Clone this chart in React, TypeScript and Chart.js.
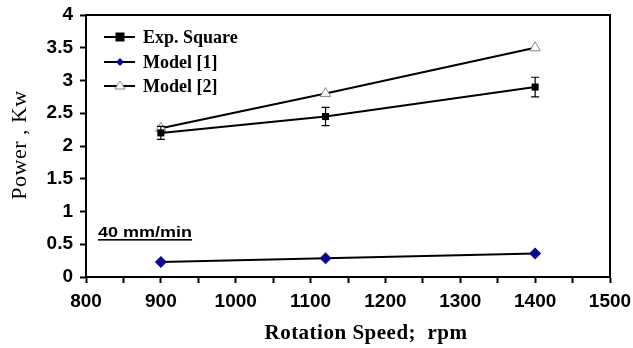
import React, { useEffect, useRef } from "react";
import { Chart, registerables } from "chart.js";

Chart.register(...registerables);

const speeds = [900, 1120, 1400];
const expSquare = [2.2, 2.45, 2.9];
const expError = [0.1, 0.14, 0.15];
const model1 = [0.23, 0.285, 0.36];
const model2 = [2.27, 2.8, 3.5];
const yTicks = [0, 0.5, 1, 1.5, 2, 2.5, 3, 3.5, 4];
const xTickLabels = [800, 900, 1000, 1100, 1200, 1300, 1400, 1500];
const legendLabels = ["Exp. Square", "Model [1]", "Model [2]"];
const noteText = "40 mm/min";
const xTitle = "Rotation Speed;  rpm";
const yTitle = "Power , Kw";

const PLOT = { left: 86, top: 15, right: 610, bottom: 277 };

export default function App() {
  const ref = useRef<HTMLCanvasElement>(null);
  useEffect(() => {
    document.body.style.margin = "0";
    const canvas = ref.current!;
    const framePlugin = {
      id: "frame",
      afterDatasetsDraw(chart: any) {
        const { ctx, chartArea: a, scales } = chart;
        const xs = scales.x, ys = scales.y;
        ctx.save();
        // frame
        ctx.strokeStyle = "#000";
        ctx.lineWidth = 2;
        ctx.beginPath();
        ctx.moveTo(a.left, a.top);
        ctx.lineTo(a.right, a.top);
        ctx.lineTo(a.right, a.bottom);
        ctx.stroke();
        // error bars
        ctx.lineWidth = 1.2;
        speeds.forEach((s, i) => {
          const x = xs.getPixelForValue(s);
          const y1 = ys.getPixelForValue(expSquare[i] + expError[i]);
          const y2 = ys.getPixelForValue(expSquare[i] - expError[i]);
          ctx.beginPath();
          ctx.moveTo(x, y1); ctx.lineTo(x, y2);
          ctx.moveTo(x - 4, y1); ctx.lineTo(x + 4, y1);
          ctx.moveTo(x - 4, y2); ctx.lineTo(x + 4, y2);
          ctx.stroke();
        });
        // legend
        const rows = [37, 62, 86];
        const lx1 = 104, lx2 = 135, mx = 120;
        rows.forEach((ry, i) => {
          ctx.strokeStyle = "#000";
          ctx.lineWidth = 2;
          ctx.beginPath();
          ctx.moveTo(lx1, ry); ctx.lineTo(lx2, ry);
          ctx.stroke();
          if (i === 0) {
            ctx.fillStyle = "#000";
            ctx.fillRect(mx - 4.5, ry - 4.5, 9, 9);
          } else if (i === 1) {
            ctx.fillStyle = "#0a0a8c";
            ctx.beginPath();
            ctx.moveTo(mx, ry - 4); ctx.lineTo(mx + 4, ry); ctx.lineTo(mx, ry + 4); ctx.lineTo(mx - 4, ry);
            ctx.closePath(); ctx.fill();
          } else {
            ctx.fillStyle = "#fff";
            ctx.strokeStyle = "#888";
            ctx.lineWidth = 1;
            ctx.beginPath();
            ctx.moveTo(mx, ry - 5); ctx.lineTo(mx + 5, ry + 3); ctx.lineTo(mx - 5, ry + 3);
            ctx.closePath(); ctx.fill(); ctx.stroke();
          }
          ctx.fillStyle = "#000";
          ctx.font = "bold 18px 'Liberation Serif'";
          ctx.textBaseline = "middle";
          ctx.textAlign = "left";
          ctx.fillText(legendLabels[i], 143, ry + 1);
        });
        // note
        ctx.save();
        ctx.font = "bold 15px 'Liberation Sans'";
        ctx.fillStyle = "#000";
        ctx.textBaseline = "alphabetic";
        ctx.translate(98, 237);
        ctx.scale(1.2, 1);
        ctx.fillText(noteText, 0, 0);
        const w = ctx.measureText(noteText).width;
        ctx.fillRect(0, 2, w, 1.6);
        ctx.restore();
        // x title
        ctx.font = "bold 21px 'Liberation Serif'";
        ctx.fillStyle = "#000";
        (ctx as any).letterSpacing = "0.5px";
        ctx.textAlign = "center";
        ctx.textBaseline = "alphabetic";
        ctx.fillText(xTitle, 366, 339);
        // y title
        ctx.save();
        ctx.font = "22px 'Liberation Serif'";
        ctx.translate(26, 145);
        ctx.rotate(-Math.PI / 2);
        ctx.fillText(yTitle, 0, 0);
        ctx.restore();
        ctx.restore();
      },
    };
    const chart = new Chart(canvas, {
      type: "line",
      data: {
        datasets: [
          {
            label: legendLabels[0],
            data: speeds.map((s, i) => ({ x: s, y: expSquare[i] })),
            borderColor: "#000",
            backgroundColor: "#000",
            borderWidth: 2,
            pointStyle: "rect",
            pointRadius: 5,
            pointBorderWidth: 0,
          },
          {
            label: legendLabels[1],
            data: speeds.map((s, i) => ({ x: s, y: model1[i] })),
            borderColor: "#000",
            backgroundColor: "#0a0a8c",
            pointBackgroundColor: "#0a0a8c",
            pointBorderColor: "#0a0a8c",
            borderWidth: 2,
            pointStyle: "rectRot",
            pointRadius: 6,
            pointBorderWidth: 0,
          },
          {
            label: legendLabels[2],
            data: speeds.map((s, i) => ({ x: s, y: model2[i] })),
            borderColor: "#000",
            backgroundColor: "#fff",
            pointBackgroundColor: "#fff",
            pointBorderColor: "#888",
            borderWidth: 2,
            pointStyle: "triangle",
            pointRadius: 6,
            pointBorderWidth: 1,
          },
        ],
      },
      options: {
        responsive: false,
        animation: false,
        layout: { padding: { left: 0, top: PLOT.top, right: 633 - PLOT.right, bottom: 0 } },
        plugins: { legend: { display: false }, tooltip: { enabled: false } },
        scales: {
          x: {
            type: "linear",
            min: 800,
            max: 1500,
            afterBuildTicks(scale: any) {
              const t = [];
              for (let v = 800; v <= 1500; v += 50) t.push({ value: v });
              scale.ticks = t;
            },
            afterFit(scale: any) {
              scale.height = 348 - PLOT.bottom;
              scale.paddingLeft = 0;
              scale.paddingRight = 0;
            },
            grid: { drawOnChartArea: false, drawTicks: true, tickLength: 6, tickColor: "#000", tickWidth: 2 },
            border: { color: "#000", width: 2 },
            ticks: {
              autoSkip: false,
              maxRotation: 0,
              padding: 7,
              color: "#000",
              font: { family: "'Liberation Sans'", size: 19, weight: "bold" },
              callback: (v: any) => (xTickLabels.includes(v) ? String(v) : ""),
            },
          },
          y: {
            type: "linear",
            min: 0,
            max: 4,
            afterBuildTicks(scale: any) { scale.ticks = yTicks.map((v) => ({ value: v })); },
            afterFit(scale: any) {
              scale.width = PLOT.left;
              scale.paddingTop = 0;
              scale.paddingBottom = 0;
            },
            grid: { drawOnChartArea: false, drawTicks: true, tickLength: 6, tickColor: "#000", tickWidth: 2 },
            border: { color: "#000", width: 2 },
            ticks: {
              padding: 7,
              color: "#000",
              font: { family: "'Liberation Sans'", size: 19, weight: "bold" },
              callback: (v: any) => String(v),
            },
          },
        },
      },
      plugins: [framePlugin],
    });
    return () => chart.destroy();
  }, []);
  return (
    <div style={{ width: 633, height: 348 }}>
      <canvas ref={ref} width={633} height={348} />
    </div>
  );
}
